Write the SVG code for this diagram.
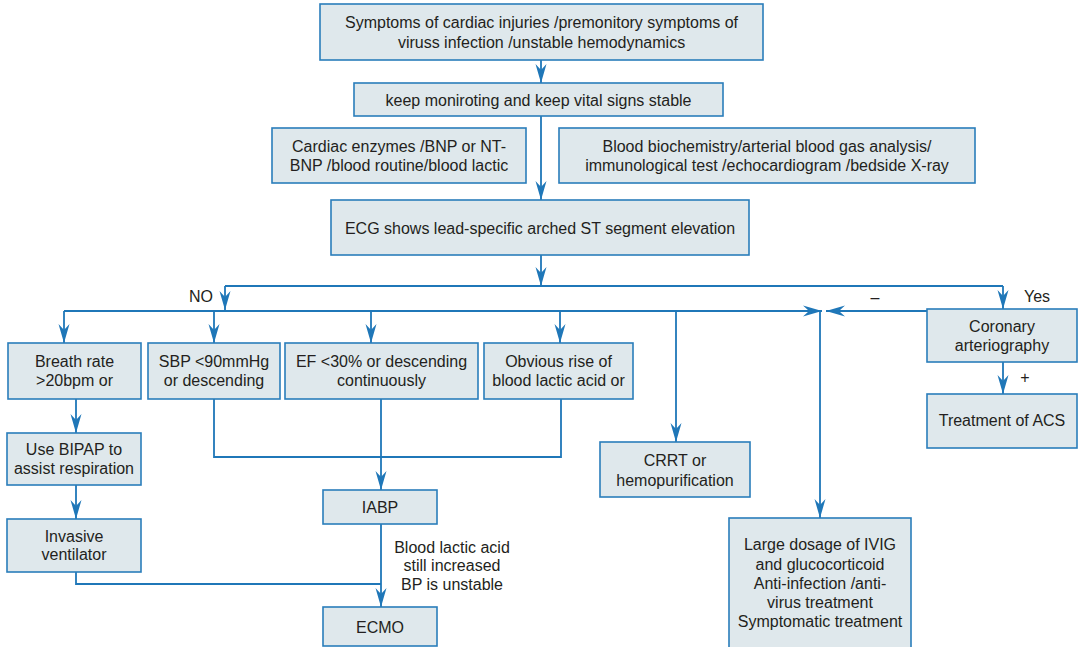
<svg xmlns="http://www.w3.org/2000/svg" width="1078" height="647" viewBox="0 0 1078 647">
<style>
.box{fill:#dfe8ec;stroke:#2a7dbb;stroke-width:1.6}
.t{font-family:"Liberation Sans",Arial,sans-serif;font-size:16px;fill:#231f20;text-anchor:middle}
.c{fill:none;stroke:#1f77b8;stroke-width:1.8}
.a{marker-end:url(#ah)}
</style>
<defs>
<marker id="ah" viewBox="-20 -7 21 14" markerWidth="21" markerHeight="14" refX="0" refY="0" orient="auto" markerUnits="userSpaceOnUse">
<path d="M0,0 L-19,-5.5 L-13,0 L-19,5.5 Z" fill="#1f77b8"/>
</marker>
</defs>
<rect width="1078" height="647" fill="#ffffff"/>
<g id="connectors">
<path class="c a" d="M541,60 V83"/>
<path class="c a" d="M541,116 V200"/>
<path class="c a" d="M541,255 V286"/>
<path class="c" d="M225,286 H1003"/>
<path class="c a" d="M225,286 V310"/>
<path class="c a" d="M64,311 H822"/>
<path class="c a" d="M64,311 V343"/>
<path class="c a" d="M214,311 V343"/>
<path class="c a" d="M371,311 V343"/>
<path class="c a" d="M560,311 V343"/>
<path class="c a" d="M676,311 V442"/>
<path class="c a" d="M1003,286 V309"/>
<path class="c a" d="M927,311 H826"/>
<path class="c a" d="M820,311 V518"/>
<path class="c a" d="M1003,362 V394"/>
<path class="c a" d="M76,399 V433"/>
<path class="c a" d="M76,485 V519"/>
<path class="c" d="M76,572 V584 H381"/>
<path class="c" d="M214,399 V457 H561 V399"/>
<path class="c a" d="M381,399 V490"/>
<path class="c a" d="M381,524 V607"/>
</g>
<g id="n1"><rect class="box" x="320" y="4" width="443" height="56"/><text class="t" x="541.5" y="28">Symptoms of cardiac injuries /premonitory symptoms of</text><text class="t" x="541.5" y="48">viruss infection /unstable hemodynamics</text></g>
<g id="n2"><rect class="box" x="354" y="83" width="369" height="33"/><text class="t" x="538.5" y="105.5">keep moniroting and keep vital signs stable</text></g>
<g id="n3"><rect class="box" x="272" y="128" width="254" height="55"/><text class="t" x="399" y="152">Cardiac enzymes /BNP or NT-</text><text class="t" x="399" y="171">BNP /blood routine/blood lactic</text></g>
<g id="n4"><rect class="box" x="559" y="128" width="416" height="55"/><text class="t" x="767" y="152">Blood biochemistry/arterial blood gas analysis/</text><text class="t" x="767" y="171">immunological test /echocardiogram /bedside X-ray</text></g>
<g id="n5"><rect class="box" x="331" y="200" width="418" height="55"/><text class="t" x="540" y="233.5">ECG shows lead-specific arched ST segment elevation</text></g>
<g id="n6"><rect class="box" x="8" y="343" width="133" height="56"/><text class="t" x="74.5" y="367">Breath rate</text><text class="t" x="74.5" y="386">&gt;20bpm or</text></g>
<g id="n7"><rect class="box" x="148" y="343" width="132" height="56"/><text class="t" x="214" y="367">SBP &lt;90mmHg</text><text class="t" x="214" y="386">or descending</text></g>
<g id="n8"><rect class="box" x="285" y="343" width="193" height="56"/><text class="t" x="381.5" y="367">EF &lt;30% or descending</text><text class="t" x="381.5" y="386">continuously</text></g>
<g id="n9"><rect class="box" x="484" y="343" width="149" height="56"/><text class="t" x="558.5" y="367">Obvious rise of</text><text class="t" x="558.5" y="386">blood lactic acid or</text></g>
<g id="n10"><rect class="box" x="600" y="442" width="150" height="55"/><text class="t" x="675" y="465.5">CRRT or</text><text class="t" x="675" y="485.5">hemopurification</text></g>
<g id="n11"><rect class="box" x="729" y="518" width="182" height="140"/><text class="t" x="820" y="549.5">Large dosage of IVIG</text><text class="t" x="820" y="569.5">and glucocorticoid</text><text class="t" x="820" y="588.5">Anti-infection /anti-</text><text class="t" x="820" y="607.5">virus treatment</text><text class="t" x="820" y="626.5">Symptomatic treatment</text></g>
<g id="n12"><rect class="box" x="927" y="309" width="150" height="53"/><text class="t" x="1002" y="331.5">Coronary</text><text class="t" x="1002" y="350.5">arteriography</text></g>
<g id="n13"><rect class="box" x="927" y="394" width="150" height="54"/><text class="t" x="1002" y="426">Treatment of ACS</text></g>
<g id="n14"><rect class="box" x="7" y="433" width="134" height="52"/><text class="t" x="74" y="454.5">Use BIPAP to</text><text class="t" x="74" y="473.5">assist respiration</text></g>
<g id="n15"><rect class="box" x="7" y="519" width="134" height="53"/><text class="t" x="74" y="541.5">Invasive</text><text class="t" x="74" y="560">ventilator</text></g>
<g id="n16"><rect class="box" x="323" y="490" width="114" height="34"/><text class="t" x="380" y="512.5">IABP</text></g>
<g id="n17"><rect class="box" x="323" y="607" width="114" height="39"/><text class="t" x="380" y="632.5">ECMO</text></g>
<g id="labels">
<text class="t" x="201" y="301.5">NO</text>
<text class="t" x="1037" y="301.5">Yes</text>
<text class="t" x="875" y="303">–</text>
<text class="t" x="1025" y="383">+</text>
<text class="t" x="452" y="552.5">Blood lactic acid</text>
<text class="t" x="452" y="571">still increased</text>
<text class="t" x="452" y="589.5">BP is unstable</text>
</g>
</svg>
